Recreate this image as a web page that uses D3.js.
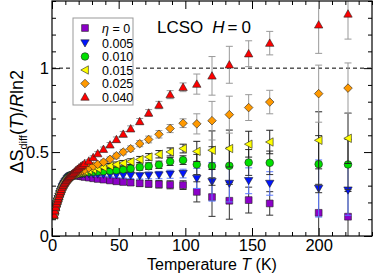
<!DOCTYPE html>
<html>
<head>
<meta charset="utf-8">
<script src="https://cdn.jsdelivr.net/npm/d3@7"></script>
<style>
  body { margin: 0; background: #fff; }
  text { font-family: "Liberation Sans", Arial, Helvetica, sans-serif; }
</style>
</head>
<body>
<div id="chart"></div>
<script>
// Temperatures (K) shared by all series
var temps = [1.6, 2.2, 2.8, 3.4, 4.0, 4.6, 5.2, 5.8, 6.4, 7.0, 7.7, 8.4, 9.1, 9.8, 10.6, 11.4, 12.2, 13.0, 13.9,
  14.8, 15.8, 16.8, 17.9, 19.0, 20.2, 21.5, 22.9, 24.4, 27.6, 30.9, 34.3, 38.6, 43.5, 48.3, 53.4, 59.0,
  65.8, 72.5, 80.2, 88.6, 98.3, 108.6, 120.0, 133.0, 147.5, 163.3, 200.0, 222.0];

// low-T points where all samples sit on the same curve
var commonLow = [0.125, 0.150, 0.172, 0.192, 0.208, 0.222, 0.236, 0.251, 0.265, 0.278, 0.292, 0.303, 0.313,
  0.322, 0.331, 0.340, 0.347, 0.353, 0.358];

// remaining points per doping level
var eta0 = [0.360, 0.361, 0.362, 0.362, 0.361, 0.359, 0.357, 0.355, 0.352, 0.348, 0.344, 0.340, 0.336, 0.331,
  0.326, 0.322, 0.318, 0.314, 0.311, 0.308, 0.305, 0.303, 0.263, 0.232, 0.210, 0.214, 0.194, 0.138, 0.115];
var eta005 = [0.361, 0.364, 0.366, 0.367, 0.368, 0.369, 0.369, 0.370, 0.370, 0.370, 0.369, 0.368, 0.367, 0.365,
  0.364, 0.362, 0.360, 0.358, 0.361, 0.363, 0.368, 0.372, 0.343, 0.323, 0.313, 0.329, 0.313, 0.283, 0.273];
var eta010 = [0.362, 0.366, 0.369, 0.371, 0.373, 0.375, 0.376, 0.377, 0.378, 0.380, 0.382, 0.384, 0.386, 0.389,
  0.392, 0.396, 0.401, 0.410, 0.416, 0.424, 0.444, 0.452, 0.426, 0.417, 0.418, 0.438, 0.436, 0.428, 0.426];
var eta015 = [0.363, 0.367, 0.371, 0.374, 0.377, 0.379, 0.381, 0.383, 0.385, 0.390, 0.396, 0.402, 0.410, 0.418,
  0.426, 0.434, 0.443, 0.456, 0.471, 0.487, 0.501, 0.521, 0.504, 0.511, 0.521, 0.547, 0.560, 0.570, 0.582];
var eta025 = [0.364, 0.369, 0.374, 0.378, 0.382, 0.385, 0.388, 0.391, 0.394, 0.406, 0.416, 0.427, 0.440, 0.457,
  0.478, 0.500, 0.520, 0.550, 0.575, 0.606, 0.640, 0.672, 0.668, 0.687, 0.723, 0.765, 0.798, 0.848, 0.881];
var eta040 = [0.366, 0.374, 0.382, 0.390, 0.398, 0.406, 0.414, 0.422, 0.432, 0.447, 0.468, 0.491, 0.517, 0.543,
  0.575, 0.607, 0.639, 0.682, 0.733, 0.780, 0.842, 0.886, 0.905, 0.954, 1.020, 1.086, 1.149, 1.258, 1.323];

// error bar half-lengths, one per temperature
var errors = [0.004, 0.004, 0.004, 0.004, 0.004, 0.004, 0.004, 0.004, 0.004, 0.004, 0.004, 0.004, 0.004, 0.004,
  0.004, 0.004, 0.004, 0.004, 0.004, 0.004, 0.004, 0.004, 0.004, 0.004, 0.004, 0.005, 0.006, 0.007,
  0.008, 0.010, 0.012, 0.013, 0.014, 0.015, 0.016, 0.017, 0.018, 0.020, 0.022, 0.024, 0.026,
  0.060, 0.115, 0.110, 0.077, 0.070, 0.170, 0.150];

var legendLabels = ["0", "0.005", "0.010", "0.015", "0.025", "0.040"];
var xMajor = [0, 50, 100, 150, 200];
var yMajor = [0, 0.5, 1];

var series = [
  { label: legendLabels[0], values: commonLow.concat(eta0), shape: "square", fill: "#8c00c8", err: "#333" },
  { label: legendLabels[1], values: commonLow.concat(eta005), shape: "down", fill: "#0014ff", err: "#5a78ff" },
  { label: legendLabels[2], values: commonLow.concat(eta010), shape: "circle", fill: "#00e000", err: "#333" },
  { label: legendLabels[3], values: commonLow.concat(eta015), shape: "left", fill: "#ffff00", err: "#222" },
  { label: legendLabels[4], values: commonLow.concat(eta025), shape: "diamond", fill: "#ff9900", err: "#999" },
  { label: legendLabels[5], values: commonLow.concat(eta040), shape: "up", fill: "#ff0000", err: "#999" }
];

var svgWidth = 374, svgHeight = 275;
var margin = { top: 1, right: 2, bottom: 39, left: 52 };
var width = svgWidth - margin.left - margin.right;
var height = svgHeight - margin.top - margin.bottom;

var svg = d3.select("#chart").append("svg")
  .attr("width", svgWidth)
  .attr("height", svgHeight);

var g = svg.append("g")
  .attr("transform", `translate(${margin.left},${margin.top})`);

var x = d3.scaleLinear().domain([0, 240]).range([0, width]);
var y = d3.scaleLinear().domain([0, 1.4]).range([height, 0]);

svg.append("clipPath").attr("id", "plotclip")
  .append("rect").attr("width", width).attr("height", height);

// marker shapes
function shapePath(shape) {
  if (shape === "square") return "M-3.4,-3.4H3.4V3.4H-3.4Z";
  if (shape === "down") return "M-4.2,-3.2L4.2,-3.2L0,4Z";
  if (shape === "up") return "M-4.2,3.2L4.2,3.2L0,-4.2Z";
  if (shape === "left") return "M-4.2,0L3.4,-4.2L3.4,4.2Z";
  if (shape === "diamond") return "M0,-4.3L4.3,0L0,4.3L-4.3,0Z";
  return d3.symbol(d3.symbolCircle, 46)();
}

// ticks: major / minor, inward on all sides
var xMinor = d3.range(0, 241, 10).filter(d => xMajor.indexOf(d) < 0);
var yMinor = d3.range(0, 1.41, 0.1).map(d => +d.toFixed(1)).filter(d => yMajor.indexOf(d) < 0);

g.append("g").attr("transform", `translate(0,${height})`)
  .call(d3.axisBottom(x).tickValues(xMajor).tickSize(-8).tickPadding(3).tickFormat(d3.format("d")));
g.append("g").attr("transform", `translate(0,${height})`)
  .call(d3.axisBottom(x).tickValues(xMinor).tickSize(-4).tickFormat(""));
g.append("g").call(d3.axisTop(x).tickValues(xMajor).tickSize(-8).tickFormat(""));
g.append("g").call(d3.axisTop(x).tickValues(xMinor).tickSize(-4).tickFormat(""));

g.append("g")
  .call(d3.axisLeft(y).tickValues(yMajor).tickSize(-8).tickPadding(3).tickFormat(d3.format("~g")));
g.append("g").call(d3.axisLeft(y).tickValues(yMinor).tickSize(-4).tickFormat(""));
g.append("g").attr("transform", `translate(${width},0)`)
  .call(d3.axisRight(y).tickValues(yMajor).tickSize(-8).tickFormat(""));
g.append("g").attr("transform", `translate(${width},0)`)
  .call(d3.axisRight(y).tickValues(yMinor).tickSize(-4).tickFormat(""));

g.selectAll(".domain").remove();
g.selectAll(".tick line").attr("stroke", "#000").attr("stroke-width", 1);
g.selectAll(".tick text").attr("font-size", 16.5).attr("fill", "#000")
  .attr("font-family", "'Liberation Sans', Arial, sans-serif");

// dashed line at 1
g.append("line")
  .attr("x1", 0).attr("x2", width)
  .attr("y1", y(1)).attr("y2", y(1))
  .attr("stroke", "#000").attr("stroke-width", 1).attr("stroke-dasharray", "4,3");

// data
var plot = g.append("g").attr("clip-path", "url(#plotclip)");
series.forEach(function(s) {
  var pts = temps.map((t, i) => ({ t: t, v: s.values[i], e: errors[i] }));
  var eb = plot.append("g").attr("stroke", s.err).attr("stroke-width", 1).attr("fill", "none");
  eb.selectAll("path")
    .data(pts)
    .enter()
    .append("path")
    .attr("d", function(d) {
      var cx = x(d.t), y1 = y(d.v + d.e), y2 = y(d.v - d.e);
      return `M${cx},${y1}V${y2}M${cx - 3.5},${y1}H${cx + 3.5}M${cx - 3.5},${y2}H${cx + 3.5}`;
    });
  plot.append("g").selectAll("path")
    .data(pts)
    .enter()
    .append("path")
    .attr("transform", d => `translate(${x(d.t)},${y(d.v)})`)
    .attr("d", shapePath(s.shape))
    .attr("fill", s.fill)
    .attr("stroke", "#222")
    .attr("stroke-width", 0.6);
});

// frame
g.append("rect")
  .attr("width", width).attr("height", height)
  .attr("fill", "none").attr("stroke", "#000").attr("stroke-width", 1.2);

// legend
var legend = g.append("g").attr("transform", "translate(21,17)");
legend.append("rect")
  .attr("width", 60).attr("height", 87)
  .attr("fill", "#fff").attr("stroke", "#999").attr("stroke-width", 1);
var rowY = [10, 25, 38.5, 52, 65.5, 79];
series.forEach(function(s, i) {
  var row = legend.append("g").attr("transform", `translate(12,${rowY[i]})`);
  row.append("path").attr("d", shapePath(s.shape))
    .attr("fill", s.fill).attr("stroke", "#222").attr("stroke-width", 0.6);
  var t = row.append("text").attr("x", 17).attr("y", 4.5).attr("font-size", 12.5).attr("fill", "#000");
  if (i === 0) {
    t.append("tspan").attr("font-style", "italic").text("η");
    t.append("tspan").text(" = " + s.label);
  } else {
    t.text(s.label);
  }
});

// annotation
var ann = g.append("text").attr("x", 105).attr("y", 32).attr("font-size", 17).attr("fill", "#000");
ann.append("tspan").text("LCSO");
ann.append("tspan").attr("dx", 9).attr("font-style", "italic").text("H");
ann.append("tspan").attr("dx", 3).text("=");
ann.append("tspan").attr("dx", 4).text("0");

// axis titles
var xt = svg.append("text")
  .attr("x", margin.left + width / 2).attr("y", 270)
  .attr("text-anchor", "middle").attr("font-size", 16).attr("fill", "#000");
xt.append("tspan").text("Temperature ");
xt.append("tspan").attr("font-style", "italic").text("T");
xt.append("tspan").text(" (K)");

var yt = svg.append("text")
  .attr("transform", `translate(23,${margin.top + y(0.68)}) rotate(-90)`)
  .attr("text-anchor", "middle").attr("font-size", 18).attr("fill", "#000");
yt.append("tspan").text("ΔS");
yt.append("tspan").attr("font-size", 11).attr("dy", 4).text("diff");
yt.append("tspan").attr("dy", -4).text("(");
yt.append("tspan").attr("font-style", "italic").text("T");
yt.append("tspan").text(")/");
yt.append("tspan").attr("font-style", "italic").text("R");
yt.append("tspan").text("ln2");
</script>
</body>
</html>
